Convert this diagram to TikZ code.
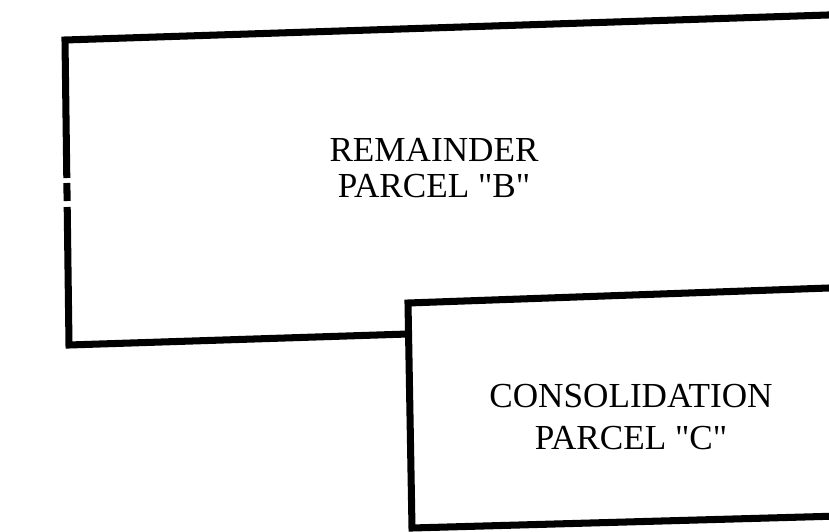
\documentclass[tikz,border=0pt]{standalone}
\usepackage{fontspec}
\setmainfont{Liberation Serif}
\usepackage{tikz}
\usetikzlibrary{positioning, calc}

\begin{document}
\begin{tikzpicture}[x=0.025cm, y=-0.025cm,
    lotline/.style={line width=5pt, line join=miter, line cap=butt},
    parcellabel/.style={align=center, inner sep=0pt, font=\fontsize{25}{25.5}\selectfont}]
    \useasboundingbox (0,0) rectangle (829,532);

    % remainder parcel B
    \coordinate (b-tl) at (65,40);
    \coordinate (b-tr) at (840,14.6);
    \coordinate (b-bl) at (69,345);
    \coordinate (b-br) at (408,334);
    \draw[lotline] (b-tr) -- (b-tl) -- (66.8,178);
    \draw[lotline] (66.9,183) -- (67.1,201);
    \draw[lotline] (67.2,207) -- (b-bl) -- (b-br);

    % consolidation parcel C
    \coordinate (c-tl) at (408,303);
    \coordinate (c-tr) at (840,287.6);
    \coordinate (c-bl) at (412,528);
    \coordinate (c-br) at (840,516);
    \draw[lotline] (c-tr) -- (c-tl) -- (c-bl) -- (c-br);

    \node (remainder) [parcellabel] at (434,168) {REMAINDER\\PARCEL \textquotedbl B\textquotedbl};
    \node (consolidation) [parcellabel] at (631,417) {CONSOLIDATION\\[4pt]PARCEL \textquotedbl C\textquotedbl};
\end{tikzpicture}
\end{document}
